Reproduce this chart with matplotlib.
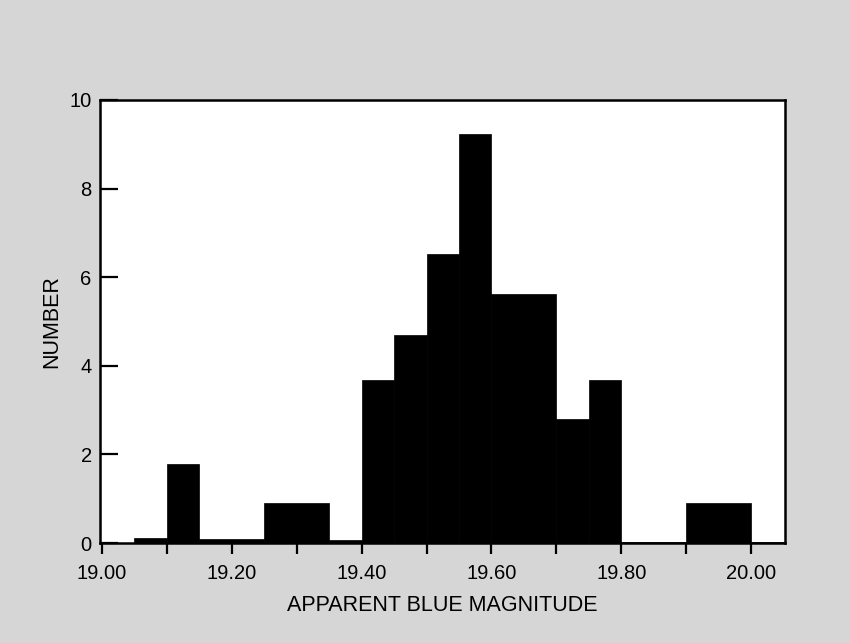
import numpy as np
import matplotlib.pyplot as plt

# histogram bins (apparent blue magnitude) and heights
bin_edges = [19.05, 19.10, 19.15, 19.25, 19.35, 19.40, 19.45, 19.50,
             19.55, 19.60, 19.70, 19.75, 19.80, 19.90, 20.00, 20.05]
counts = [0.11, 1.78, 0.09, 0.90, 0.07, 3.69, 4.70, 6.52,
          9.23, 5.61, 2.79, 3.69, 0.03, 0.90, 0.03]

x_ticks = [19.0, 19.1, 19.2, 19.3, 19.4, 19.5, 19.6, 19.7, 19.8, 19.9, 20.0]
x_labels = ['19.00', '', '19.20', '', '19.40', '', '19.60', '', '19.80', '', '20.00']
y_ticks = [0, 2, 4, 6, 8, 10]


def main():
    plt.rcParams['font.family'] = ['Liberation Sans', 'DejaVu Sans']

    fig = plt.figure(figsize=(8.5, 6.43), dpi=100, facecolor='#d6d6d6')
    ax = fig.add_axes([0.1176, 0.1555, 0.8059, 0.689])
    ax.set_facecolor('white')

    edges = np.array(bin_edges)
    ax.bar(edges[:-1], counts, width=np.diff(edges), align='edge',
           color='black', edgecolor='black', linewidth=0.5)

    ax.set_xlim(18.997, 20.052)
    ax.set_ylim(0, 10)

    ax.set_xticks(x_ticks)
    ax.set_xticklabels(x_labels)
    ax.set_yticks(y_ticks)

    ax.tick_params(axis='x', direction='out', length=8, width=1.6,
                   pad=7, labelsize=14.5)
    ax.tick_params(axis='y', direction='in', length=13, width=1.6,
                   pad=6, labelsize=14.5)
    for s in ax.spines.values():
        s.set_linewidth(1.8)

    ax.set_xlabel('APPARENT BLUE MAGNITUDE', fontsize=15.5, labelpad=9)
    ax.set_ylabel('NUMBER', fontsize=15.5, labelpad=5)

    fig.savefig('out.png', dpi=100, facecolor=fig.get_facecolor())


if __name__ == '__main__':
    main()
